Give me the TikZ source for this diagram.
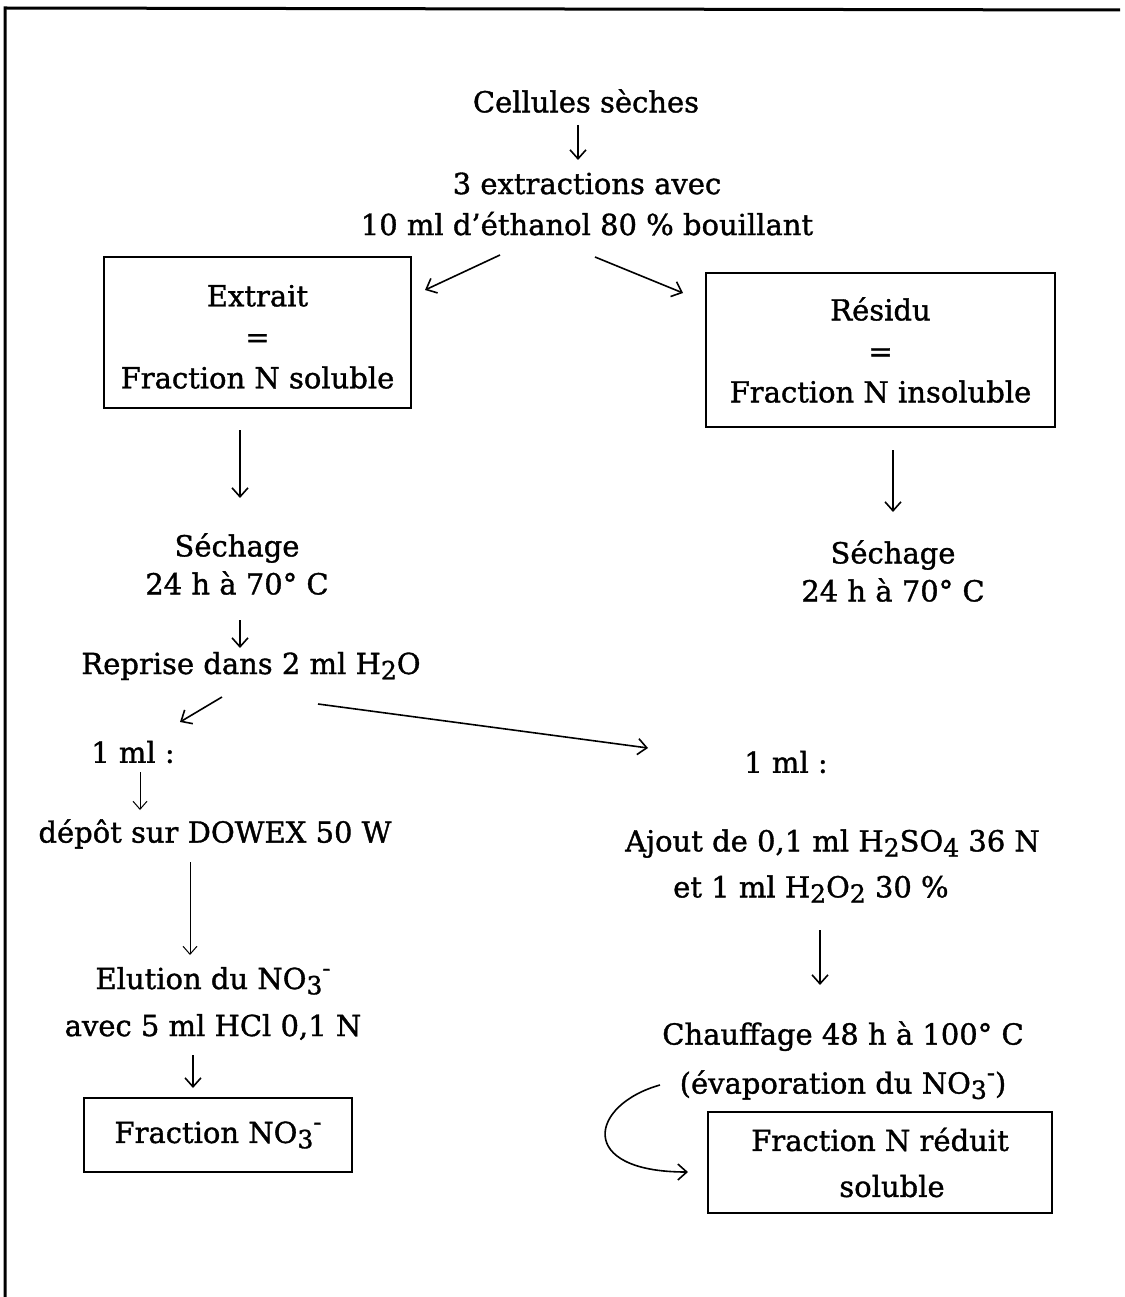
\documentclass[tikz,border=0pt]{standalone}
\usepackage{fontspec}
\setmainfont{DejaVu Serif}[FakeBold=1.2]
\usetikzlibrary{arrows.meta,calc}
\newcommand\sbs[1]{\raisebox{-0.35ex}{\fontsize{25}{25}\selectfont #1}}
\newcommand\sps[1]{\raisebox{0.85ex}{\fontsize{24}{24}\selectfont #1}}
\begin{document}
\begin{tikzpicture}[x=1pt,y=-1pt,
  txt/.style={align=center,inner sep=0pt,font=\fontsize{29}{41}\selectfont},
  boxnode/.style={draw,line width=2.2pt,align=center,inner sep=0pt,font=\fontsize{29}{41}\selectfont},
  arr/.style={line width=1.6pt,-{Straight Barb[length=9pt,width=16pt,line width=1.6pt]}},
  thinarr/.style={line width=1pt,-{Straight Barb[length=8pt,width=14pt,line width=1pt]}},
  frameline/.style={line width=3pt}]
\useasboundingbox (0,0) rectangle (1124,1297);
% frame
\coordinate (ftl) at (5,8);
\coordinate (ftr) at (1120,10);
\coordinate (fbl) at (5,1297);
\draw[frameline] (fbl) -- (ftl) -- (ftr);

% text nodes
\node[txt] (cel) at (586,101) {Cellules sèches};
\node[txt] (ext) at (587,204) {3 extractions avec\\10 ml d'éthanol 80 \% bouillant};
\node[boxnode,minimum width=307pt,minimum height=151pt] (extrait) at (257.5,332.5) {\rule{0pt}{30pt}Extrait\\=\\Fraction N soluble};
\node[boxnode,minimum width=349pt,minimum height=154pt] (residu) at (880.5,350) {Résidu\\=\\Fraction N insoluble};
\node[txt,font=\fontsize{29}{38}\selectfont] (sech1) at (237,564) {Séchage\\24 h à 70° C};
\node[txt,font=\fontsize{29}{38}\selectfont] (sech2) at (893,571) {Séchage\\24 h à 70° C};
\node[txt] (rep) at (251,666) {Reprise dans 2 ml H\sbs{2}O};
\node[txt] (ml1) at (133,752) {1 ml :};
\node[txt] (ml2) at (786,762) {1 ml :};
\node[txt] (dep) at (215,834) {dépôt sur DOWEX 50 W};
\node[txt,align=left,font=\fontsize{29}{46}\selectfont,anchor=west] (ajout) at (625,866) {Ajout de 0,1 ml H\sbs{2}SO\sbs{4} 36 N\\\hspace{48pt}et 1 ml H\sbs{2}O\sbs{2} 30 \%};
\node[txt,font=\fontsize{29}{47}\selectfont] (elu) at (213,1003.5) {Elution du NO\sbs{3}\sps{-}\\avec 5 ml HCl 0,1 N};
\node[boxnode,minimum width=268pt,minimum height=74pt] (fno3) at (218,1135) {Fraction NO\sbs{3}\sps{-}};
\node[txt,font=\fontsize{29}{49}\selectfont] (chauf) at (843,1060.5) {Chauffage 48 h à 100° C\\(évaporation du NO\sbs{3}\sps{-})};
\node[boxnode,minimum width=344pt,minimum height=101pt,font=\fontsize{29}{46}\selectfont] (fred) at (880,1162.5) {Fraction N réduit\\\hspace{24pt}soluble};

% connectors
\draw[arr] ($(cel)+(-8,24)$) -- ($(ext)+(-9,-44)$);
\draw[arr] ($(ext)+(-87,51)$) -- ($(extrait)+(167.5,-42.5)$);
\draw[arr] ($(ext)+(8,53)$) -- ($(residu)+(-197.5,-57)$);
\draw[arr] ($(extrait)+(-17.5,97.5)$) -- ($(sech1)+(3,-66)$);
\draw[arr] ($(residu)+(12.5,100)$) -- ($(sech2)+(0,-59)$);
\draw[arr] ($(sech1)+(3,56)$) -- ($(rep)+(-11,-18)$);
\draw[arr] ($(rep)+(-29,31)$) -- ($(ml1)+(47,-30)$);
\draw[arr] ($(rep)+(67,38)$) -- ($(ml2)+(-138,-14)$);
\draw[thinarr] ($(ml1)+(7,20)$) -- ($(dep)+(-75,-24)$);
\draw[thinarr] ($(dep)+(-25,28)$) -- ($(elu)+(-23,-48.5)$);
\draw[arr] ($(ajout.west)+(195,64)$) -- ($(chauf)+(-23,-75.5)$);
\draw[arr] ($(elu)+(-20,51.5)$) -- ($(fno3)+(-25,-47)$);
\draw[arr] ($(chauf)+(-183,24.5)$) .. controls ($(chauf)+(-253,44)$) and ($(fred)+(-305,9.5)$) .. ($(fred)+(-192,9.5)$);
\end{tikzpicture}
\end{document}
